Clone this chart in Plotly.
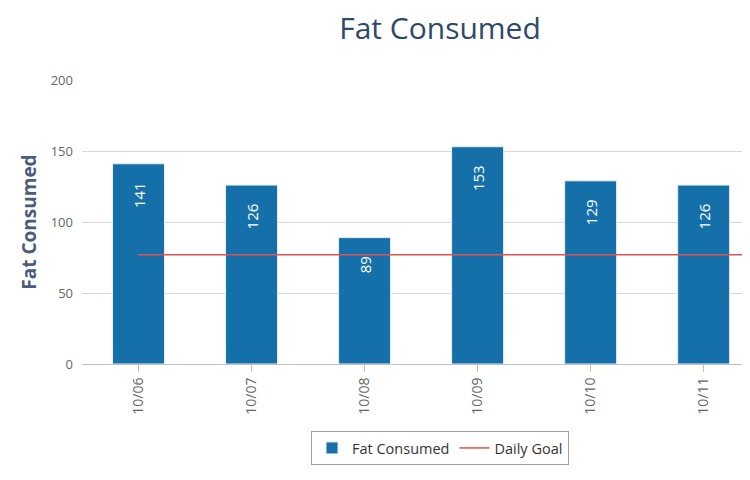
import plotly.graph_objects as go

dates = ["10/06", "10/07", "10/08", "10/09", "10/10", "10/11"]
fat_consumed = [141, 126, 89, 153, 129, 126]
goal_positions = [0, 1, 2, 3, 4, 5, 6]
daily_goal = [77, 77, 77, 77, 77, 77, 77]
y_ticks = [0, 50, 100, 150, 200]

font_family = "Open Sans, Noto Sans, sans-serif"

fig = go.Figure()
fig.add_trace(go.Bar(
    x=list(range(len(dates))),
    y=fat_consumed,
    name="Fat Consumed",
    width=0.46,
    marker=dict(color="#1570aa", line=dict(color="#e6f0f7", width=1)),
    text=[f"{v}" for v in fat_consumed],
    texttemplate="%{text}    ",
    textposition="inside",
    insidetextanchor="end",
    textangle=-90,
    constraintext="none",
    insidetextfont=dict(color="white", size=15, family=font_family),
    hoverinfo="x+y",
))
fig.add_trace(go.Scatter(
    x=goal_positions,
    y=daily_goal,
    name="Daily Goal",
    mode="lines",
    line=dict(color="#e0524f", width=1.5),
))

fig.update_layout(
    width=750, height=480,
    margin=dict(l=74, r=8, t=72, b=124),
    paper_bgcolor="white", plot_bgcolor="white",
    font=dict(family=font_family, color="#666666"),
    title=dict(text="Fat Consumed", x=432/750, xref="container", xanchor="center",
               y=1 - 20/480, yref="container", yanchor="middle",
               font=dict(size=30, color="#2d4a69", family=font_family)),
    showlegend=True,
    legend=dict(orientation="h", x=(432-74)/668, xanchor="center",
                y=(356-440)/284, yanchor="middle",
                bordercolor="#a0a0a0", borderwidth=1, bgcolor="white",
                font=dict(size=14.5, color="#333333", family=font_family),
                itemwidth=30),
    bargap=0.54,
)
fig.update_xaxes(
    range=[-0.5, 5.41],
    tickmode="array", tickvals=list(range(len(dates))), ticktext=dates,
    tickangle=-90, tickfont=dict(size=14, color="#666666"),
    ticks="outside", ticklen=7, tickcolor="#c0c0c0",
    showline=True, linecolor="#c0c0c0", linewidth=1,
    showgrid=False, zeroline=False,
)
fig.update_yaxes(
    range=[0, 200], tickvals=y_ticks,
    tickfont=dict(size=13, color="#666666"),
    showgrid=True, gridcolor="#d8d8d8", gridwidth=1,
    zeroline=False, showline=False, ticks="", ticklabelstandoff=8,
    title=dict(text="<b>Fat Consumed</b>", standoff=9,
               font=dict(size=19, color="#4a5b7b", family=font_family)),
)

fig.write_html("out.html")
